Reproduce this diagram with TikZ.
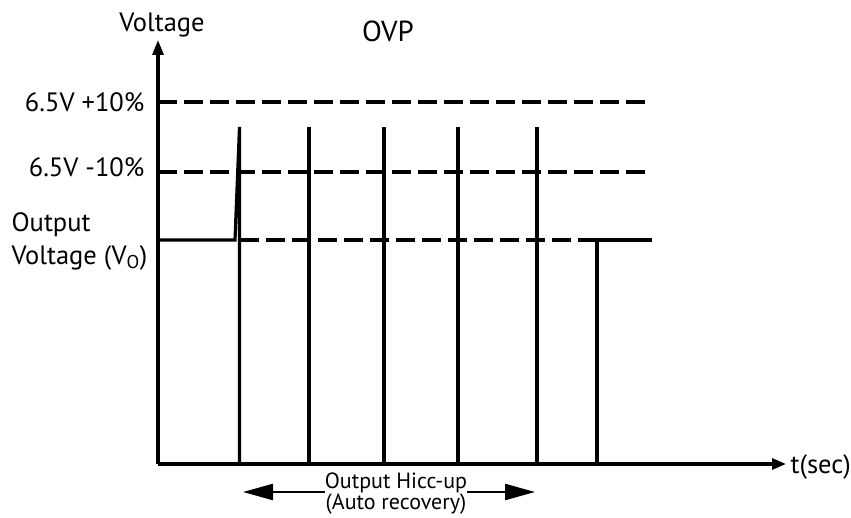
\documentclass[tikz,border=0pt]{standalone}
\usepackage{fontspec}
\setmainfont{PT Sans}
\usetikzlibrary{arrows.meta}

\begin{document}
\begin{tikzpicture}[x=1pt,y=-1pt,line width=3.2pt,
        lim/.style={dash pattern=on 19pt off 7pt},
        txt/.style={font=\fontsize{26.5}{33}\selectfont, inner sep=0pt}]
        \useasboundingbox (0,0) rectangle (851,518);
        % axes
        \coordinate (o) at (158,464);
        \coordinate (vtop) at (158,40);
        \coordinate (tend) at (786,464);
        \draw[-{Triangle[length=15pt,width=11pt]}] (o) -- (vtop);
        \draw[-{Triangle[length=14pt,width=11pt]}] (o) -- (tend);
        \node[txt, anchor=base] (vlab) at (162,32) {Voltage};
        \node[txt, anchor=base west] (tlab) at (789,473) {t(sec)};
        \node[txt, font=\fontsize{29}{30}\selectfont, anchor=base] (ovp) at (388,42) {OVP};
        % limits
        \coordinate (hi) at (158,102);
        \coordinate (hiend) at (652,102);
        \coordinate (lo) at (158,172);
        \coordinate (loend) at (652,172);
        \coordinate (vo) at (158,240);
        \node[txt, anchor=base east] (hilab) at (146,112) {6.5V +10\%};
        \node[txt, anchor=base east] (lolab) at (146,177) {6.5V -10\%};
        \node[txt, align=left, anchor=west] (volab) at (10,241) {Output\\Voltage (V\textsubscript{O})};
        \draw[lim] (hi) -- (hiend);
        \draw[lim] (lo) -- (loend);
        \draw[lim] (240,240) -- (597,240);
        % output
        \draw (vo) -- (235,240) -- (239.5,127) -- (239.5,464);
        \foreach \x in {309,384,458,537}
            \draw (\x,464) -- (\x,127);
        \draw (597,464) -- (597,240) -- (652,240);
        % hiccup
        \coordinate (hl) at (243,492);
        \coordinate (hr) at (535,492);
        \draw[{Triangle[length=30pt,width=16pt]}-{Triangle[length=30pt,width=16pt]}, line width=2.4pt] (hl) -- (hr);
        \node[fill=white, inner sep=0pt, align=center, font=\fontsize{22}{19}\selectfont] (hicc) at (396,494) {Output Hicc-up\\(Auto recovery)};
\end{tikzpicture}
\end{document}
